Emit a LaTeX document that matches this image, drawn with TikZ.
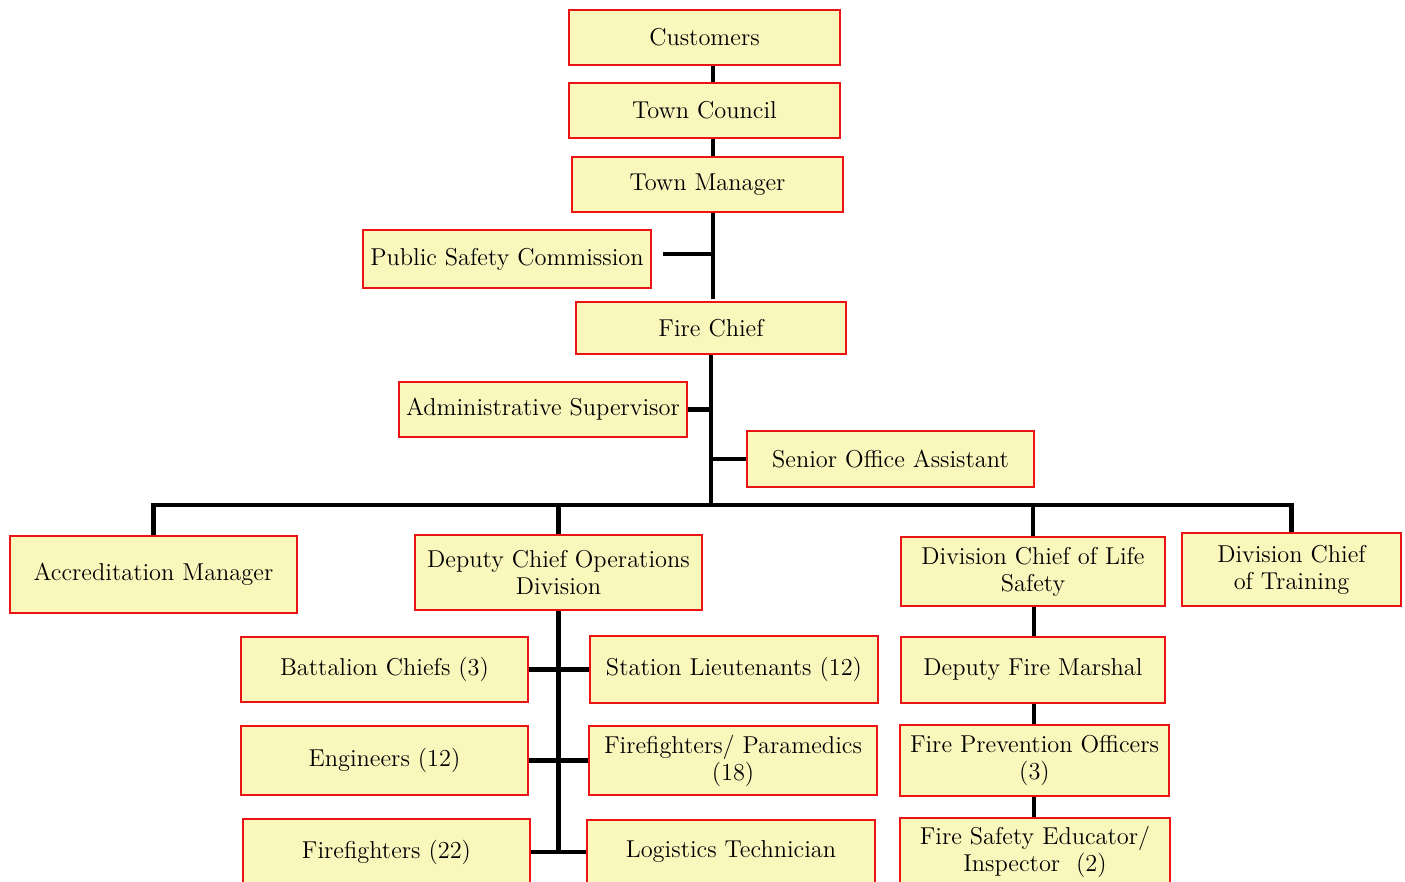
\documentclass[tikz,border=0pt]{standalone}
\usepackage{xcolor}
\usepackage{tikz}

\definecolor{boxfill}{RGB}{250,247,189}
\definecolor{boxline}{RGB}{235,20,20}

\tikzset{
  unit/.style={draw=boxline, line width=1pt, fill=boxfill, inner sep=1pt,
    align=center, font=\fontsize{12.2}{13.5}\selectfont},
  link/.style={line width=2.2pt, black}
}

\begin{document}
\begin{tikzpicture}[x=0.5pt,y=0.5pt,yscale=-1,xscale=1]
        \useasboundingbox (0,0) rectangle (1405,882);
        % top of the chain
        \node [unit, minimum width=135.5pt, minimum height=27.5pt] (cust) at (704.5,37.5) {Customers};
        \node [unit, minimum width=135.5pt, minimum height=27.5pt] (council) at (704.5,110.5) {Town Council};
        \node [unit, minimum width=135.5pt, minimum height=27.5pt] (mgr) at (707.5,184.5) {Town Manager};
        \node [unit, minimum width=144pt, minimum height=29pt] (psc) at (507,259) {Public Safety Commission};
        \node [unit, minimum width=135pt, minimum height=26pt] (chief) at (711,328) {Fire Chief};
        \node [unit, minimum width=144pt, minimum height=27.5pt] (admin) at (543,409.5) {Administrative Supervisor};
        \node [unit, minimum width=143.5pt, minimum height=28pt] (soa) at (890.5,459) {Senior Office Assistant};
        % second level
        \node [unit, minimum width=143.5pt, minimum height=38.5pt] (accr) at (153.5,574.5) {Accreditation Manager};
        \node [unit, minimum width=143.5pt, minimum height=37.5pt] (ops) at (558.5,572.5) {Deputy Chief Operations\\Division};
        \node [unit, minimum width=132pt, minimum height=34.5pt] (life) at (1033,571.5) {Division Chief of Life\\Safety};
        \node [unit, minimum width=109.5pt, minimum height=36.5pt] (train) at (1291.5,569.5) {Division Chief\\of Training};
        % operations division
        \node [unit, minimum width=143.5pt, minimum height=32.5pt] (batt) at (384.5,669.5) {Battalion Chiefs (3)};
        \node [unit, minimum width=144pt, minimum height=33.5pt] (stat) at (734,669.5) {Station Lieutenants (12)};
        \node [unit, minimum width=143.5pt, minimum height=34.5pt] (eng) at (384.5,760.5) {Engineers (12)};
        \node [unit, minimum width=144pt, minimum height=34.5pt] (ffpm) at (733,760.5) {Firefighters/ Paramedics\\(18)};
        \node [unit, minimum width=143.5pt, minimum height=33pt] (ff) at (386.5,852) {Firefighters (22)};
        \node [unit, minimum width=144pt, minimum height=32pt] (logi) at (731,852) {Logistics Technician};
        % life safety division
        \node [unit, minimum width=132pt, minimum height=33pt] (dfm) at (1033,670) {Deputy Fire Marshal};
        \node [unit, minimum width=134.5pt, minimum height=35.5pt] (fpo) at (1034.5,760.5) {Fire Prevention Officers\\(3)};
        \node [unit, minimum width=135pt, minimum height=34pt] (fse) at (1035,852) {Fire Safety Educator/\\Inspector~~(2)};

        % connectors
        \coordinate (top) at (713,0);
        \coordinate (bus) at (711,505);
        \coordinate (life line) at (1034,0);
        \draw [link] (cust.south -| top) -- (council.north -| top);
        \draw [link] (council.south -| top) -- (mgr.north -| top);
        \draw [link] (mgr.south -| top) -- ([yshift=-1pt]chief.north -| top);
        \draw [link] ([xshift=5.5pt,yshift=-2.5pt]psc.east) -- ([yshift=-2.5pt]psc.east -| top);
        \draw [link] (chief.south -| bus) -- (bus);
        \draw [link] (admin.east) -- (admin.east -| bus);
        \draw [link] (soa.west) -- (soa.west -| bus);
        \draw [link] (accr.north) |- (bus);
        \draw [link] (ops.north) |- (bus);
        \draw [link] (life.north) |- (bus);
        \draw [link] (train.north) |- (bus);
        \draw [link] (ops.south) -- ([yshift=-0.5pt]ops.south |- ff.east);
        \draw [link] (batt.east) -- (stat.west);
        \draw [link] (eng.east) -- (ffpm.west);
        \draw [link] (ff.east) -- (logi.west);
        \draw [link] (life.south -| life line) -- (dfm.north -| life line);
        \draw [link] (dfm.south -| life line) -- (fpo.north -| life line);
        \draw [link] (fpo.south -| life line) -- (fse.north -| life line);
    \end{tikzpicture}
\end{document}
